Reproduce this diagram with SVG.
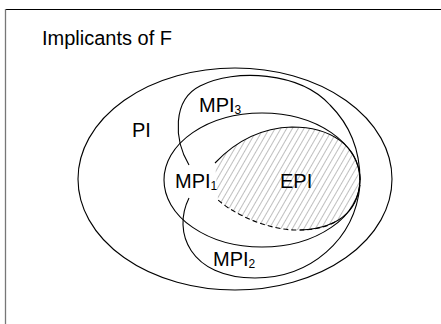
<svg xmlns="http://www.w3.org/2000/svg" width="441" height="324" viewBox="0 0 441 324">
<style>
.c{fill:none;stroke:#000;stroke-width:1.1}
.t{font-family:"Liberation Sans",Arial,sans-serif;font-size:20px;fill:#000}
.s{font-size:12px}
</style>
<defs>
<pattern id="hatch" width="5" height="10" patternUnits="userSpaceOnUse" patternTransform="rotate(30)">
<line x1="2.5" y1="0" x2="2.5" y2="10" stroke="#b8b8b8" stroke-width="0.9"/>
</pattern>
</defs>
<rect width="441" height="324" fill="#fff"/>
<g id="frame">
<line x1="5" y1="9.5" x2="441" y2="9.5" stroke="#000" stroke-width="1"/>
<line x1="5.5" y1="9" x2="5.5" y2="324" stroke="#777" stroke-width="1.3"/>
</g>
<g id="title"><text class="t" x="42" y="45">Implicants of F</text></g>
<g id="connectors"></g>
<g id="PI">
<ellipse class="c" cx="235" cy="179" rx="157" ry="111"/>
<text class="t" x="132" y="137">PI</text>
</g>
<g id="EPI">
<path d="M215,163 C232,145 258,128 292,127 C330,127 358,145 360,178 C360,205 345,228 300,230 C270,231 235,215 218,200 Z" fill="url(#hatch)" stroke="none"/>
<path class="c" d="M215,163 C232,145 258,128 292,127 C330,127 358,145 360,178 C360,205 345,228 300,230"/>
<path class="c" stroke-dasharray="5,3" d="M335,222 C325,228 312,230 300,230 C270,231 235,215 218,200"/>
<text class="t" x="280" y="188">EPI</text>
</g>
<g id="MPI1">
<ellipse class="c" cx="262" cy="180" rx="98" ry="67"/>
<text class="t" x="175" y="188">MPI<tspan class="s" dy="2">1</tspan></text>
</g>
<g id="MPI3">
<path class="c" d="M189,165 C174,140 172,100 200,86 C235,68 300,72 330,105 C350,125 360,150 360,180"/>
<text class="t" x="199" y="112">MPI<tspan class="s" dy="2">3</tspan></text>
</g>
<g id="MPI2">
<path class="c" d="M189,198 C172,232 190,278 255,278 C310,278 355,240 360,185"/>
<text class="t" x="213" y="266">MPI<tspan class="s" dy="2">2</tspan></text>
</g>
</svg>
